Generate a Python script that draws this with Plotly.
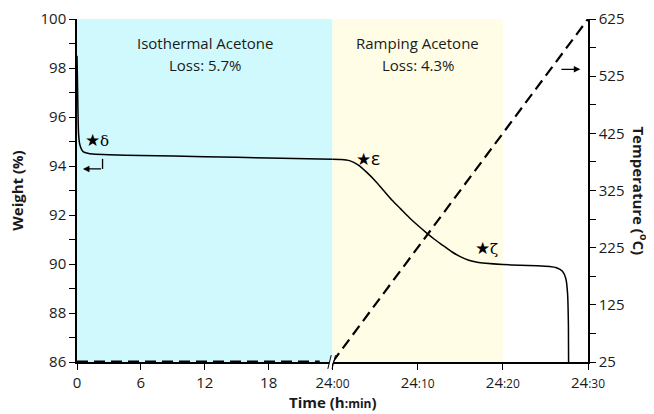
import plotly.graph_objects as go

# ---- data ----
iso_hours = [0, 0.05, 0.1, 0.15, 0.25, 0.4, 0.6, 1.0, 1.5, 3, 6, 12, 18, 24]
iso_weight = [98.5, 97.3, 96.0, 95.3, 94.9, 94.7, 94.58, 94.52, 94.49, 94.46, 94.43, 94.38, 94.33, 94.28]

ramp_minutes = [0, 1, 2, 3, 4, 5, 6, 7, 8, 9, 10, 11, 12, 13, 14, 15, 16, 17, 18, 20, 22, 24,
                25.5, 26.3, 27, 27.4, 27.6, 27.7, 27.72]
ramp_weight = [94.28, 94.27, 94.22, 94.05, 93.75, 93.4, 93.0, 92.6, 92.25, 91.9, 91.58, 91.28,
               91.0, 90.75, 90.5, 90.3, 90.15, 90.07, 90.03, 89.98, 89.95, 89.93,
               89.9, 89.85, 89.7, 89.4, 88.8, 87.5, 86.0]

iso_temp_hours = [0, 22.8]
iso_temp = [25, 25]
ramp_temp_minutes = [0, 30]
ramp_temp = [25, 625]

x_tick_labels = ["0", "6", "12", "18", "24:00", "24:10", "24:20", "24:30"]
weight_ticks = [86, 88, 90, 92, 94, 96, 98, 100]
temp_ticks = [25, 125, 225, 325, 425, 525, 625]

# ---- broken time axis: hours section [0,30], minutes section [30,60] ----
def from_hours(h):
    return [v * 30.0 / 24.0 for v in h]

def from_minutes(m):
    return [30.0 + v for v in m]

tick_hours = [0, 6, 12, 18]
tick_minutes = [0, 10, 20, 30]
tickvals = from_hours(tick_hours) + from_minutes(tick_minutes)

def fmt(lbl):
    if ":" in lbl:
        a, b = lbl.split(":")
        return a + '<span style="font-size:12px">:' + b + '</span>'
    return lbl

ticktext = [fmt(t) for t in x_tick_labels]

FONT = "Open Sans"
SERIF = "DejaVu Serif"
INK = "#1a1a1a"

fig = go.Figure()

fig.add_trace(go.Scatter(x=from_hours(iso_hours), y=iso_weight, mode="lines",
                         line=dict(color="black", width=1.5, shape="spline", smoothing=0.6),
                         hoverinfo="skip"))
fig.add_trace(go.Scatter(x=from_minutes(ramp_minutes), y=ramp_weight, mode="lines",
                         line=dict(color="black", width=1.5, shape="spline", smoothing=0.6),
                         hoverinfo="skip"))
fig.add_trace(go.Scatter(x=from_hours(iso_temp_hours), y=iso_temp, mode="lines", yaxis="y2",
                         line=dict(color="black", width=3.2, dash="11px,6px"),
                         hoverinfo="skip"))
fig.add_trace(go.Scatter(x=from_minutes(ramp_temp_minutes), y=ramp_temp, mode="lines", yaxis="y2",
                         line=dict(color="black", width=2.2, dash="11px,6px"),
                         hoverinfo="skip"))

shapes = [
    dict(type="rect", xref="x", yref="paper", x0=0, x1=30, y0=0, y1=1,
         fillcolor="#CFF9FD", line=dict(width=0), layer="below"),
    dict(type="rect", xref="x", yref="paper", x0=30, x1=50, y0=0, y1=1,
         fillcolor="#FFFDE6", line=dict(width=0), layer="below"),
    # break marks
    dict(type="line", xref="x", yref="paper", x0=29.75, x1=30.35, y0=-0.007, y1=0.028,
         line=dict(color="white", width=3)),
    dict(type="line", xref="x", yref="paper", x0=29.45, x1=29.85, y0=-0.02, y1=0.02,
         line=dict(color="black", width=1)),
    dict(type="line", xref="x", yref="paper", x0=29.95, x1=30.35, y0=-0.02, y1=0.02,
         line=dict(color="black", width=1)),
    # elbow of left arrow
    dict(type="line", xref="x", yref="y", x0=3.0, x1=3.0, y0=94.29, y1=93.88,
         line=dict(color="black", width=1.3)),
]

tf = dict(family=FONT, size=15, color=INK)

def star(letter, x, y, family=SERIF, size=15):
    return dict(text='<span style="font-size:17px">★</span>' + letter, x=x, y=y, xref="x", yref="y",
                showarrow=False, xanchor="center", yanchor="middle",
                font=dict(family=family, size=size, color="black"))

annotations = [
    dict(text="Isothermal Acetone", x=15, y=0.93, xref="x", yref="paper", showarrow=False,
         xanchor="center", yanchor="middle", font=tf),
    dict(text="Loss: 5.7%", x=15, y=0.866, xref="x", yref="paper", showarrow=False,
         xanchor="center", yanchor="middle", font=tf),
    dict(text="Ramping Acetone", x=40, y=0.93, xref="x", yref="paper", showarrow=False,
         xanchor="center", yanchor="middle", font=tf),
    dict(text="Loss: 4.3%", x=40, y=0.866, xref="x", yref="paper", showarrow=False,
         xanchor="center", yanchor="middle", font=tf),
    star("δ", 2.35, 95.06),
    star("ε", 34.2, 94.33, family=FONT, size=19),
    star("ζ", 48.14, 90.65),
    dict(text="", x=0.7, y=93.88, ax=3.0, ay=93.88, xref="x", yref="y", axref="x", ayref="y",
         showarrow=True, arrowhead=2, arrowsize=1, arrowwidth=1.3, arrowcolor="black"),
    dict(text="", x=59.1, y=537, ax=56.7, ay=537, xref="x", yref="y2", axref="x", ayref="y2",
         showarrow=True, arrowhead=2, arrowsize=1, arrowwidth=1.3, arrowcolor="black"),
    dict(text="<b>Weight (%)</b>", x=-0.119, y=0.5, xref="paper", yref="paper", showarrow=False,
         xanchor="center", yanchor="middle",
         textangle=-90, font=dict(family=FONT, size=15, color=INK)),
    dict(text="<b>Temperature (<sup>o</sup>C)</b>", x=1.102, y=0.5, xref="paper", yref="paper",
         xanchor="center", yanchor="middle",
         showarrow=False, textangle=90, font=dict(family=FONT, size=15, color=INK)),
    dict(text='<b>Time (h<span style="font-size:12px">:min</span>)</b>', x=0.501, y=-0.117,
         xanchor="center", yanchor="middle",
         xref="paper", yref="paper", showarrow=False, font=dict(family=FONT, size=15, color=INK)),
]

axis_common = dict(showgrid=False, zeroline=False, showline=True, linecolor="black", linewidth=1.5,
                   ticks="outside", ticklen=6, tickwidth=1.3, tickcolor="black",
                   ticklabeloverflow="allow", automargin=False,
                   tickfont=dict(family=FONT, size=15, color=INK))

fig.update_layout(
    width=654, height=414,
    margin=dict(l=69, r=74, t=11, b=60, autoexpand=False),
    paper_bgcolor="white", plot_bgcolor="white",
    showlegend=False,
    shapes=shapes, annotations=annotations,
    xaxis=dict(range=[0, 60], tickmode="array", tickvals=tickvals, ticktext=ticktext, **axis_common),
    yaxis=dict(range=[86, 100], tickmode="array", tickvals=weight_ticks,
               minor=dict(dtick=1, tick0=86, ticks="outside", ticklen=6, tickwidth=1.3, tickcolor="black"),
               **axis_common),
    yaxis2=dict(range=[25, 625], overlaying="y", side="right", tickmode="array", tickvals=temp_ticks,
                minor=dict(dtick=50, tick0=25, ticks="outside", ticklen=6, tickwidth=1.3, tickcolor="black"),
                **axis_common),
)

fig.write_html("out.html")
